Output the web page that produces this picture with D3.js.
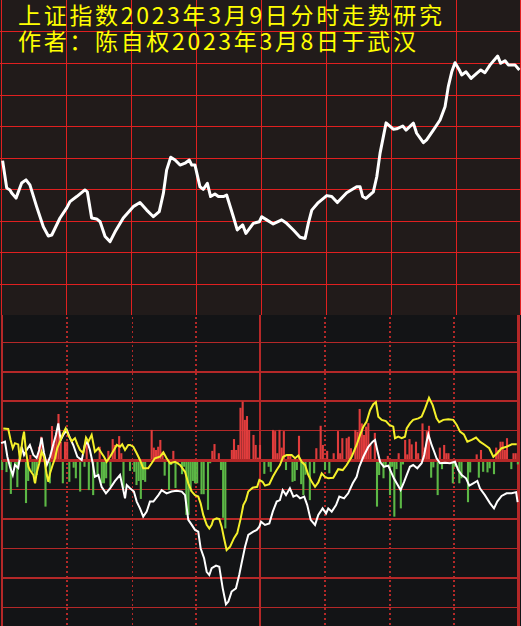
<!DOCTYPE html>
<html><head><meta charset="utf-8">
<script src="https://cdn.jsdelivr.net/npm/d3@7"></script>
<style>html,body{margin:0;padding:0;background:#131416;overflow:hidden}</style>
</head><body><svg id="c" width="521" height="626"></svg>
<script>
// ---------- DATA ----------
const titleLines = ["上证指数2023年3月9日分时走势研究", "作者：陈自权2023年3月8日于武汉"];

// top panel: index path (minute of session, level in grid-row units)
const topMinutes = [1.2,3.1,4.6,5.4,7.4,10.0,12.0,13.8,16.9,20.0,22.3,23.9,27.7,30.8,32.3,35.4,39.2,40.3,42.3,44.6,46.2,48.5,50.8,53.1,56.9,61.5,64.6,67.7,70.8,73.5,75.4,76.9,78.8,80.8,83.1,85.4,87.4,88.5,90.0,92.3,93.8,95.7,97.2,99.2,100.8,103.1,104.6,107.7,109.5,112.0,113.5,116.9,119.7,120.8,123.1,126.1,130.0,132.3,135.4,138.5,140.8,142.3,143.9,146.9,150.8,153.1,155.7,160.0,164.6,166.2,167.4,168.9,172.3,173.9,175.4,178.2,181.5,183.1,185.9,187.4,190.8,192.3,195.4,196.9,200.0,203.1,205.4,206.9,208.5,210.0,212.0,213.1,215.1,217.4,220.0,221.9,223.8,226.2,229.7,231.1,233.1,234.6,237.7,239.7];
const topValues = [4.90,4.03,3.97,3.87,3.71,4.19,4.29,4.13,3.44,2.80,2.51,2.54,3.08,3.40,3.60,3.76,3.97,3.91,3.08,3.05,2.96,2.49,2.33,2.64,3.08,3.44,3.57,3.33,3.12,3.28,3.86,4.60,5.01,4.92,4.76,4.82,4.92,4.76,4.76,4.07,3.99,4.18,3.76,3.84,3.76,3.76,3.81,3.12,2.70,2.86,2.59,2.91,2.96,3.12,3.02,2.89,3.02,2.91,2.70,2.47,2.43,2.91,3.33,3.57,3.79,3.76,3.57,3.88,4.07,4.07,3.76,3.70,3.91,4.39,5.13,6.10,5.90,5.91,6.00,5.87,6.09,5.77,5.47,5.56,5.87,6.19,6.61,7.25,7.72,8.01,7.78,7.62,7.72,7.51,7.67,7.78,7.69,7.94,8.22,7.99,8.07,7.94,7.94,7.78];

// bottom panel bars
const redMinutes = [14,18,19,24,25,26,27,28,30,31,40,46,50,52,53,55,56,70,71,72,73,74,75,80,98,99,101,107,108,109,110,111,112,113,114,115,117,118,119,120,126,127,128,129,130,131,133,134,138,146,148,149,151,154,156,157,158,160,161,162,164,165,166,167,168,169,170,171,173,179,184,187,188,189,190,192,193,195,196,197,198,203,205,206,207,220,222,229,230,231,232,233,234,237,238];
const redValues = [0.17,0.45,0.79,1.15,0.56,0.92,1.56,0.62,0.62,0.62,0.56,0.45,0.31,0.71,0.51,0.81,0.23,1.02,0.42,0.34,0.45,0.68,0.28,0.31,0.31,0.54,0.23,0.34,0.71,0.34,0.51,1.77,1.98,1.36,1.49,1.02,0.85,0.51,0.08,0.51,1.02,0.98,0.23,1.02,0.42,0.98,0.17,0.19,0.82,0.40,1.16,0.51,0.31,0.23,0.98,0.23,0.74,0.74,0.79,0.40,1.02,0.96,1.73,1.24,0.85,1.13,1.25,0.51,0.92,0.14,0.23,0.68,0.19,0.71,0.53,0.62,0.23,1.24,0.42,0.98,1.16,0.42,0.51,0.23,0.23,0.19,0.34,0.42,0.34,0.62,0.62,0.34,0.74,0.23,0.23];
const greenMinutes = [1,3,5,7,8,12,13,15,16,17,21,23,29,32,34,35,37,39,41,43,45,47,48,49,51,57,60,62,63,64,65,66,67,76,78,79,81,82,84,85,86,87,88,89,90,91,93,94,96,97,100,102,103,104,105,122,124,125,132,135,136,137,139,140,141,143,145,150,152,159,174,175,177,178,180,181,182,183,185,186,199,200,202,204,209,210,212,213,216,217,221,223,225,226,228,236,239];
const greenValues = [-0.34,-0.41,-1.15,-0.17,-0.92,-1.46,-0.71,-0.40,-0.76,-0.51,-1.58,-0.79,-0.79,-0.74,-0.26,-0.62,-1.07,-0.23,-1.02,-1.19,-0.51,-0.79,-0.79,-0.62,-0.90,-0.96,-0.37,-0.40,-0.85,-0.71,-1.32,-0.68,-0.74,-0.53,-1.02,-0.17,-0.95,-0.11,-0.48,-0.23,-1.86,-1.86,-1.07,-0.71,-0.79,-0.79,-1.16,-1.16,-1.69,-0.11,-0.06,-0.34,-1.96,-2.32,-0.06,-0.47,-0.23,-0.40,-0.34,-0.74,-0.71,-0.34,-0.82,-1.19,-0.50,-1.36,-0.45,-0.34,-0.45,-0.06,-1.58,-0.51,-0.62,-0.23,-1.19,-0.23,-1.92,-0.31,-1.64,-0.15,-0.60,-0.25,-1.19,-0.31,-0.79,-0.23,-0.79,-0.62,-1.43,-0.42,-0.60,-0.40,-0.42,-0.28,-0.48,-0.31,-0.15];

// bottom panel lines [minute, value]
const whiteSeries = [[0.5,0.57],[2.3,0.62],[3.4,0.11],[4.6,-0.23],[5.9,-0.51],[6.9,-0.17],[8.4,-0.27],[10.0,0.45],[11.1,0.17],[12.3,0.34],[13.8,0.51],[15.4,0.17],[16.9,0.07],[18.1,0.34],[19.2,0.76],[20.3,0.24],[21.6,-0.17],[23.1,0.11],[24.3,0.45],[25.8,0.85],[26.9,1.24],[28.0,0.68],[29.2,0.85],[30.8,1.02],[32.3,0.74],[33.8,0.51],[35.7,0.11],[37.7,0.00],[39.2,0.51],[40.3,0.62],[41.5,0.34],[42.8,-0.11],[43.8,-0.57],[45.4,-0.51],[46.9,-0.91],[48.9,-1.13],[50.8,-0.96],[53.1,-0.71],[55.4,-0.51],[56.9,-1.02],[57.7,-1.30],[58.5,-0.85],[60.0,-0.96],[61.8,-1.07],[63.1,-1.41],[64.6,-1.64],[66.1,-1.92],[67.7,-1.75],[69.2,-1.41],[70.8,-1.41],[73.1,-1.19],[74.6,-1.02],[76.9,-1.13],[79.2,-1.07],[81.5,-1.04],[83.9,-1.07],[85.4,-1.19],[86.2,-1.64],[86.9,-2.03],[88.5,-2.20],[90.0,-2.37],[91.5,-2.43],[92.6,-2.99],[94.2,-3.33],[95.4,-3.79],[96.6,-3.90],[97.7,-3.67],[99.7,-3.58],[101.2,-3.62],[102.8,-4.35],[104.3,-4.89],[105.4,-4.80],[106.9,-4.46],[108.9,-4.35],[110.4,-3.90],[111.5,-3.50],[113.1,-2.94],[114.6,-2.54],[116.9,-2.43],[118.5,-2.37],[119.7,-2.26],[120.5,-2.09],[122.3,-2.20],[124.3,-2.15],[125.9,-1.75],[127.7,-1.41],[129.2,-1.36],[130.5,-1.02],[132.0,-1.19],[133.8,-0.96],[135.4,-1.24],[136.9,-1.19],[138.5,-1.30],[140.4,-1.24],[141.8,-1.53],[143.4,-2.03],[145.4,-2.20],[146.9,-1.86],[148.9,-1.64],[150.5,-1.81],[151.5,-1.64],[153.1,-1.75],[155.1,-1.53],[156.6,-1.24],[158.8,-1.30],[160.7,-1.13],[162.8,-0.79],[164.6,-0.57],[165.8,-0.23],[167.7,0.11],[170.0,0.45],[172.0,0.62],[173.1,0.68],[174.1,0.34],[175.4,-0.06],[177.2,-0.23],[179.2,-0.19],[181.8,-0.62],[183.1,-0.79],[184.9,-1.02],[186.5,-0.74],[187.7,-0.51],[189.2,-0.23],[190.7,-0.17],[192.6,-0.28],[194.6,-0.11],[195.8,0.17],[196.9,0.62],[197.7,0.87],[199.2,0.51],[200.4,0.28],[201.5,0.06],[203.1,-0.11],[205.4,-0.09],[207.7,-0.11],[210.0,-0.06],[211.5,-0.34],[213.1,-0.51],[215.1,-0.62],[216.6,-0.87],[218.4,-0.79],[220.3,-0.71],[221.5,-0.96],[223.8,-1.19],[226.2,-1.47],[228.0,-1.64],[229.5,-1.41],[231.5,-1.22],[233.8,-1.13],[236.2,-1.13],[238.2,-1.09],[238.9,-1.43]];
const yellowSeries = [[1.5,1.07],[3.8,1.05],[4.9,0.68],[5.9,0.40],[6.9,0.57],[8.4,0.53],[9.2,0.00],[10.5,0.74],[11.1,0.96],[12.0,0.28],[13.1,-0.23],[13.8,-0.34],[15.4,-0.51],[16.2,-0.79],[16.9,-0.45],[18.1,-0.11],[19.2,0.28],[20.3,0.11],[21.6,-0.51],[22.3,-0.74],[23.1,-0.45],[24.3,-0.17],[25.4,0.06],[26.4,0.40],[27.7,0.62],[28.9,0.87],[30.3,1.07],[31.5,0.85],[33.1,0.64],[34.6,0.74],[35.7,0.53],[36.9,0.34],[38.4,0.23],[39.7,0.76],[40.8,0.62],[42.3,0.85],[43.8,0.28],[45.4,0.40],[46.9,0.23],[48.0,0.11],[49.2,-0.06],[50.8,0.11],[52.6,0.34],[53.9,0.51],[55.4,0.45],[56.4,0.53],[57.7,0.34],[59.2,0.51],[60.0,0.51],[61.5,0.45],[63.1,0.23],[64.6,0.00],[66.1,-0.28],[68.4,-0.28],[70.0,-0.11],[71.5,0.06],[73.8,0.11],[75.4,0.26],[76.9,0.06],[78.5,-0.11],[80.8,-0.06],[83.1,-0.17],[85.4,-0.40],[86.9,-0.79],[88.5,-1.07],[90.0,-1.19],[91.5,-1.24],[92.6,-1.47],[93.8,-1.86],[95.4,-2.20],[96.6,-2.32],[97.7,-2.20],[98.4,-2.03],[100.0,-1.98],[101.2,-2.00],[102.3,-2.26],[103.4,-2.65],[104.6,-3.05],[106.2,-2.94],[108.0,-2.65],[109.5,-2.48],[111.1,-1.98],[112.3,-1.53],[113.5,-1.36],[114.6,-1.07],[116.6,-0.94],[118.7,-0.91],[119.7,-0.68],[121.2,-0.74],[122.3,-0.87],[124.3,-0.82],[125.9,-0.57],[127.7,-0.34],[129.2,-0.17],[130.7,0.11],[132.3,0.17],[134.6,0.17],[136.2,0.06],[137.7,0.15],[139.2,-0.06],[140.8,-0.17],[142.3,-0.51],[143.9,-0.74],[145.4,-0.91],[146.9,-0.76],[148.5,-0.45],[150.0,-0.57],[151.5,-0.62],[153.8,-0.60],[156.1,-0.31],[158.2,-0.34],[160.0,-0.17],[162.3,0.11],[164.6,0.51],[166.2,0.85],[167.7,1.13],[169.2,1.30],[170.8,1.69],[172.3,1.89],[173.5,1.96],[174.6,1.47],[176.2,1.36],[178.1,1.32],[179.7,1.19],[181.5,1.13],[182.3,0.74],[183.8,0.79],[185.4,0.74],[186.9,0.79],[187.7,1.07],[189.2,1.24],[190.7,1.36],[193.1,1.41],[194.6,1.47],[196.2,1.75],[198.0,2.11],[199.7,1.86],[201.5,1.41],[202.7,1.28],[204.6,1.36],[206.9,1.38],[209.2,1.36],[210.8,1.19],[212.3,0.96],[214.1,0.87],[215.7,0.62],[217.7,0.68],[219.7,0.76],[221.5,0.62],[223.8,0.51],[225.8,0.40],[227.7,0.11],[229.5,0.23],[231.5,0.40],[233.8,0.45],[236.2,0.53],[238.5,0.53]];

// grid ticks
const topRowTicks = [1,2,3,4,5,6,7,8,9];
const timeTicks = [30,60,90,120,150,180,210];
const bottomRowTicks = [4,3,2,1,0,-1,-2,-3,-4,-5];
const bottomRowWeights = [1,2,2,1,3,1,2,1,2,1];
const bottomDottedTicks = [31,61,90.5,150,180,209.5];

// ---------- DRAW ----------
const W = 521, H = 626, SPLIT = 315;
const svg = d3.select("#c");
const x = d3.scaleLinear().domain([0, 240]).range([0, 520]);
const yT = d3.scaleLinear().domain([0, 10]).range([SPLIT, 0]);
const yB = d3.scaleLinear().domain([-5, 4]).range([607.5, 342]);

svg.append("rect").attr("x",0).attr("y",0).attr("width",W).attr("height",SPLIT).attr("fill","#211b1a");
svg.append("rect").attr("x",0).attr("y",SPLIT).attr("width",W).attr("height",H-SPLIT).attr("fill","#131416");

// top grid
const gT = svg.append("g").attr("shape-rendering","crispEdges");
gT.selectAll("line.h").data(topRowTicks).join("line")
  .attr("x1",0).attr("x2",W).attr("y1",d=>Math.round(yT(d))+0.5).attr("y2",d=>Math.round(yT(d))+0.5)
  .attr("stroke","#e02020").attr("stroke-width",1);
gT.selectAll("line.v").data([0].concat(timeTicks, [240])).join("line")
  .attr("x1",d=>Math.min(Math.round(x(d))+1.5, 520.5)).attr("x2",d=>Math.min(Math.round(x(d))+1.5, 520.5))
  .attr("y1",0).attr("y2",SPLIT)
  .attr("stroke","#e02020").attr("stroke-width",1);

// title
svg.selectAll("text.title").data(titleLines).join("text")
  .attr("x",18).attr("y",(d,i)=>i===0?24:50)
  .attr("textLength",(d,i)=>i===0?424:398).attr("lengthAdjust","spacing")
  .attr("font-family","'Noto Sans CJK SC', 'Noto Sans', sans-serif")
  .attr("font-size",23).attr("fill","#ffff00")
  .text(d=>d);

// top line
svg.append("path")
  .datum(topMinutes.map((m,i)=>[m, topValues[i]]))
  .attr("fill","none").attr("stroke","#ffffff").attr("stroke-width",3).attr("stroke-linejoin","round")
  .attr("d", d3.line().x(d=>x(d[0])).y(d=>yT(d[1])));

// bottom grid
const gB = svg.append("g").attr("shape-rendering","crispEdges");
gB.selectAll("line").data(bottomRowTicks).join("line")
  .attr("x1",2).attr("x2",519)
  .attr("y1",d=>yB(d)).attr("y2",d=>yB(d))
  .attr("stroke","#b42828").attr("stroke-width",(d,i)=>bottomRowWeights[i]);
const gD = svg.append("g").attr("shape-rendering","crispEdges");
gD.selectAll("line").data(bottomDottedTicks).join("line")
  .attr("x1",d=>x(d)).attr("x2",d=>x(d))
  .attr("y1",SPLIT+2).attr("y2",H)
  .attr("stroke","#b42828").attr("stroke-width",(d,i)=>(i===1||i===4)?1.2:2)
  .attr("stroke-dasharray","2,2.7");
// solid verticals in bottom panel (left border, midday, right border)
gD.selectAll("line.s").data([0,120,240]).join("line")
  .attr("x1",d=>d===0?2:(d===240?518.5:x(d))).attr("x2",d=>d===0?2:(d===240?518.5:x(d)))
  .attr("y1",SPLIT).attr("y2",H)
  .attr("stroke","#b42828").attr("stroke-width",(d)=>d===240?3:2);

// bars
const bw = 2.1;
svg.append("g").selectAll("rect").data(redMinutes.map((m,i)=>[m, redValues[i]])).join("rect")
  .attr("x",d=>x(d[0])-bw/2).attr("width",bw)
  .attr("y",d=>yB(d[1])).attr("height",d=>yB(0)-yB(d[1]))
  .attr("fill","#e03c3c");
svg.append("g").selectAll("rect").data(greenMinutes.map((m,i)=>[m, greenValues[i]])).join("rect")
  .attr("x",d=>x(d[0])-bw/2).attr("width",bw)
  .attr("y",d=>yB(0)).attr("height",d=>yB(d[1])-yB(0))
  .attr("fill","#5cb846");

// zero line redraw over bars
svg.append("line").attr("shape-rendering","crispEdges")
  .attr("x1",2).attr("x2",519).attr("y1",yB(0)).attr("y2",yB(0))
  .attr("stroke","#b42828").attr("stroke-width",3);

// bottom lines
const lineB = d3.line().x(d=>x(d[0])).y(d=>yB(d[1]));
svg.append("path").datum(whiteSeries)
  .attr("fill","none").attr("stroke","#ffffff").attr("stroke-width",2).attr("d",lineB);
svg.append("path").datum(yellowSeries)
  .attr("fill","none").attr("stroke","#f4f02a").attr("stroke-width",2).attr("d",lineB);
</script>
</body></html>
